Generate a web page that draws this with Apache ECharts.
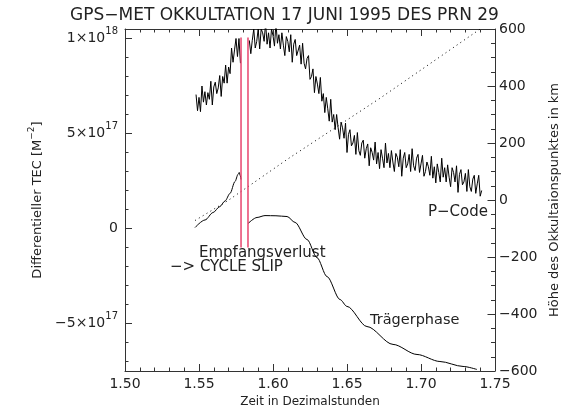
<!DOCTYPE html>
<html>
<head>
<meta charset="utf-8">
<script src="https://cdn.jsdelivr.net/npm/echarts@6/dist/echarts.min.js"></script>
<style>html,body{margin:0;padding:0;background:#fff}#c{width:569px;height:412px}</style>
</head>
<body>
<div id="c"></div>
<script>
// ---- data (TEC values in units of 1e17 el/m^2, hours on x) ----
const titleText = 'GPS\u2212MET OKKULTATION 17 JUNI 1995 DES PRN 29';
const xTickMin = 1.50, xTickMax = 1.75, xTickStep = 0.05;
const leftTickValues = [-5, 0, 5, 10];
const leftTickLabels = [['\u22125\u00d710', '17'], ['0', ''], ['5\u00d710', '17'], ['1\u00d710', '18']];
const leftMinorValues = [-7, -6, -4, -3, -2, -1, 1, 2, 3, 4, 6, 7, 8, 9];

const pcodeStep = 0.001;
const pcodeSeg1Start = 1.548;
const pcodeSeg1 = [7.05, 6.2, 6.9, 6.15, 7.5, 6.65, 7.2, 6.5, 7.15, 6.8,
  7.75, 6.5, 7.45, 7.7, 7.1, 7.4, 8.05, 6.95, 8.0, 7.65,
  8.6, 7.65, 8.5, 8.15, 9.5, 8.75, 9.4, 10.0, 9.05, 10.0, 8.7];
const pcodeSeg2Start = 1.584;
const pcodeSeg2 = [
  9.9, 9.2, 9.9, 10.5, 9.5, 9.85, 10.5, 9.45, 10.5, 10.3,
  9.85, 10.8, 9.7, 10.3, 9.5, 10.5, 10.15, 9.6, 10.8, 9.75,
  10.2, 9.45, 10.3, 9.65, 9.1, 10.1, 9.85, 9.3, 10.2, 8.75,
  9.7, 9.95, 9.1, 9.2, 9.65, 8.65, 9.75, 8.7, 8.4, 8.95,
  9.1, 7.85, 8.0, 8.4, 7.15, 8.0, 7.6, 7.1, 7.95, 6.7,
  7.1, 6.1, 6.9, 6.3, 5.65, 6.8, 5.6, 6.0, 5.2, 6.0,
  5.3, 4.7, 5.6, 5.3, 4.75, 5.55, 4.0, 4.95, 5.2, 4.35,
  4.5, 4.9, 3.9, 5.05, 4.1, 3.85, 4.5, 4.65, 3.7, 4.2,
  4.45, 3.3, 4.25, 4.0, 3.6, 4.55, 3.4, 4.0, 3.15, 4.15,
  3.7, 3.2, 4.5, 3.45, 3.95, 3.2, 4.1, 3.5, 3.0, 3.95,
  3.75, 3.25, 4.15, 2.75, 3.7, 4.0, 3.2, 3.4, 3.9, 3.0,
  4.2, 3.3, 3.05, 3.7, 3.9, 2.95, 3.4, 3.85, 2.75, 3.0,
  3.5, 3.25, 2.8, 3.8, 2.65, 3.25, 2.4, 3.4, 2.95, 2.45,
  3.7, 2.7, 3.2, 2.45, 3.35, 2.7, 2.2, 3.2, 2.95, 2.45,
  3.3, 1.9, 2.85, 3.1, 2.3, 2.45, 2.9, 1.95, 3.1, 2.2,
  1.95, 2.6, 2.8, 1.85, 2.35, 2.8, 1.7, 2.0];

const phaseSeg1 = [[1.5473, 0.05], [1.5541, 0.45], [1.5595, 0.84], [1.5640, 1.15], [1.5676, 1.45],
  [1.5710, 1.85], [1.5743, 2.47], [1.5764, 2.85], [1.5772, 2.95], [1.5778, 2.8], [1.5784, 2.58]];
const phaseSeg2 = [[1.5831, 0.26], [1.5892, 0.58], [1.5946, 0.68], [1.6020, 0.67], [1.6095, 0.63],
  [1.6149, 0.32], [1.6230, -0.58], [1.6297, -1.53], [1.6365, -2.53], [1.6453, -3.74],
  [1.6500, -4.10], [1.6635, -5.16], [1.6811, -6.10], [1.6973, -6.63], [1.7128, -7.00],
  [1.7284, -7.26], [1.7378, -7.42]];

const heightKm = [[1.5473, -72], [1.5696, -2], [1.6100, 144], [1.6723, 357], [1.7400, 600]];

const slipTimes = [1.5784, 1.5831];
const slipRange = [-1.0, 10.05];

// ---- build ----
const seg = (start, vals) => vals.map((v, i) => [+(start + i * pcodeStep).toFixed(4), v]);
const tickFont = 'DejaVu Sans';
const txt = '#222';
const leftLabelMap = {};
leftTickValues.forEach((v, i) => leftLabelMap[v] = leftTickLabels[i]);

const richSup = {
  b: {fontSize: 14, fontFamily: tickFont, color: txt, lineHeight: 24, verticalAlign: 'middle'},
  s: {fontSize: 10, fontFamily: tickFont, color: txt, lineHeight: 10, verticalAlign: 'top'}
};
const nameRich = {
  n: {fontSize: 13, fontFamily: tickFont, color: txt, lineHeight: 22, verticalAlign: 'middle'},
  s: {fontSize: 9, fontFamily: tickFont, color: txt, lineHeight: 9, verticalAlign: 'top'}
};
const leftName = '{n|Differentieller TEC [M}{s|\u22122}{n|]}';
const rightName = 'H\u00f6he des Okkultaionspunktes in km';
const xName = 'Zeit in Dezimalstunden';

function buildOption(f) {
  const baseX = (pos, showLabels) => ({
    type: 'value', position: pos, min: xTickMin, max: xTickMax, interval: xTickStep,
    axisLine: {show: true, onZero: false, lineStyle: {color: '#333', width: 1}},
    axisTick: {show: true, inside: true, length: 7, lineStyle: {color: '#333'}},
    minorTick: {show: true, splitNumber: 5, length: 3.5, lineStyle: {color: '#333'}},
    splitLine: {show: false},
    axisLabel: {show: showLabels, margin: 6, fontSize: 14, fontFamily: tickFont, color: txt,
      formatter: v => v.toFixed(2)}
  });
  const xAxes = [baseX('bottom', true), baseX('top', false)];
  const yAxes = [
    {type: 'value', position: 'left', min: -7.5, max: 10.5,
      axisLine: {show: true, onZero: false, lineStyle: {color: '#333', width: 1}},
      axisTick: {show: true, inside: true, length: 7, customValues: leftTickValues, lineStyle: {color: '#333', width: 1}},
      splitLine: {show: false},
      axisLabel: {show: true, margin: 7, customValues: leftTickValues,
        formatter: v => {
          const l = leftLabelMap[Math.round(v)];
          if (!l) return '';
          return l[1] ? '{b|' + l[0] + '}{s|' + l[1] + '}' : '{b|' + l[0] + '}';
        }, rich: richSup}},
    {type: 'value', position: 'right', min: -600, max: 600, interval: 200,
      axisLine: {show: true, onZero: false, lineStyle: {color: '#333', width: 1}},
      axisTick: {show: true, inside: true, length: 7.5, lineStyle: {color: '#333', width: 1}},
      minorTick: {show: true, splitNumber: 4, length: 4, lineStyle: {color: '#333', width: 1}},
      splitLine: {show: false},
      axisLabel: {show: true, margin: 4, fontSize: 14, fontFamily: tickFont, color: txt,
        formatter: v => String(v).replace('-', '\u2212')}},
    {type: 'value', position: 'left', min: -7.5, max: 10.5, axisLine: {show: false},
      axisTick: {show: true, inside: true, length: 3.5, customValues: leftMinorValues, lineStyle: {color: '#333', width: 1}},
      axisLabel: {show: false}, splitLine: {show: false}}
  ];
  const graphic = [];
  if (f.axisNames) {
    Object.assign(xAxes[0], {name: xName, nameLocation: 'middle', nameGap: 24,
      nameTextStyle: {fontSize: 12, fontFamily: tickFont, color: txt}});
    Object.assign(yAxes[0], {name: leftName, nameLocation: 'middle', nameRotate: 90, nameGap: 72,
      nameTextStyle: {rich: nameRich}});
    Object.assign(yAxes[1], {name: rightName, nameLocation: 'middle', nameRotate: 90, nameGap: 51,
      nameTextStyle: {fontSize: 13, fontFamily: tickFont, color: txt}});
  } else {
    graphic.push({type: 'text', x: 310, y: 401, silent: true,
      style: {text: xName, fontSize: 12, fontFamily: tickFont, fill: txt, align: 'center', verticalAlign: 'middle'}});
    graphic.push({type: 'text', x: 35, y: 199, rotation: Math.PI / 2, silent: true,
      style: {text: leftName, rich: nameRich, align: 'center', verticalAlign: 'middle'}});
    graphic.push({type: 'text', x: 553, y: 200, rotation: Math.PI / 2, silent: true,
      style: {text: rightName, fontSize: 13, fontFamily: tickFont, fill: txt, align: 'center', verticalAlign: 'middle'}});
  }
  const ann = (text, x, y, size) => ({
    type: 'text', x, y, silent: true,
    style: {text, fontSize: size, fontFamily: tickFont, fill: txt, verticalAlign: 'middle', align: 'left'}
  });
  if (f.annotations) {
    graphic.push(ann('Empfangsverlust', 199, 253, 15), ann('\u2212> CYCLE SLIP', 170, 267, 15),
      ann('P\u2212Code', 428, 212, 15), ann('Tr\u00e4gerphase', 370, 320, 14.5));
  }
  const zs = (o, z) => { if (f.seriesZ) { o.z = z; o.silent = true; } return o; };
  const blackLine = (data) => zs({type: 'line', data, xAxisIndex: 0, yAxisIndex: 0, symbol: 'none',
    lineStyle: {color: '#000', width: 1}}, 3);
  const series = [
    blackLine(seg(pcodeSeg1Start, pcodeSeg1)),
    blackLine(seg(pcodeSeg2Start, pcodeSeg2)),
    Object.assign(blackLine(phaseSeg1), {smooth: 0.3, smoothMonotone: 'x'}),
    Object.assign(blackLine(phaseSeg2), {smooth: 0.3, smoothMonotone: 'x'}),
    zs({type: 'line', data: heightKm, xAxisIndex: 0, yAxisIndex: 1, symbol: 'none',
      lineStyle: {color: '#000', width: 1, type: [1, 3.5]}}, 2)
  ].concat(slipTimes.map(t => zs({
    type: 'line', data: [[t, slipRange[0]], [t, slipRange[1]]], xAxisIndex: 0, yAxisIndex: 0,
    symbol: 'none', lineStyle: {color: '#e8446e', width: 1.5}}, 4)));
  return {
    animation: false,
    backgroundColor: '#fff',
    title: {text: titleText, left: 'center', top: 7, padding: 0,
      textStyle: {fontSize: 17, fontWeight: 'normal', fontFamily: tickFont, color: txt}},
    grid: {left: 125, right: 74, top: 29, bottom: 41, containLabel: false, outerBoundsMode: 'none'},
    xAxis: xAxes,
    yAxis: yAxes,
    series,
    graphic
  };
}

const dom = document.getElementById('c');
let chart = echarts.init(dom, null, {renderer: 'canvas'});

function ticksVisible() {
  try {
    chart.getZr().refreshImmediately();
    const canvas = dom.querySelector('canvas');
    const ctx = canvas.getContext('2d');
    const dark = (x0, x1, y0, y1) => {
      const d = ctx.getImageData(x0, y0, x1 - x0 + 1, y1 - y0 + 1).data;
      for (let i = 0; i < d.length; i += 4) if (d[i + 3] > 0 && d[i] < 170) return true;
      return false;
    };
    return dark(128, 130, 36, 41) && dark(197, 201, 364, 369);
  } catch (e) { return true; }
}

const attempts = [
  {axisNames: true, seriesZ: true, annotations: true},
  {axisNames: false, seriesZ: true, annotations: true},
  {axisNames: false, seriesZ: false, annotations: true},
  {axisNames: true, seriesZ: false, annotations: true}
];
let done = false;
for (let i = 0; i < attempts.length && !done; i++) {
  if (i > 0) { chart.dispose(); chart = echarts.init(dom, null, {renderer: 'canvas'}); }
  chart.setOption(buildOption(attempts[i]));
  done = ticksVisible();
}
if (!done) {
  chart.dispose(); chart = echarts.init(dom, null, {renderer: 'canvas'});
  chart.setOption(buildOption(attempts[0]));
}
</script>
</body>
</html>
